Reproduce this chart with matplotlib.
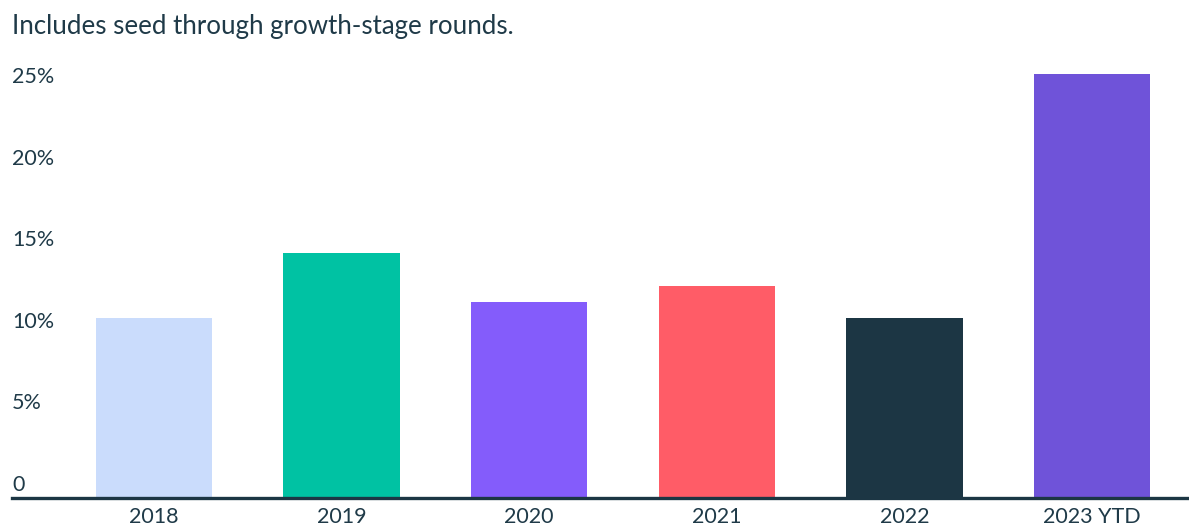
import matplotlib
matplotlib.use("Agg")
import matplotlib.pyplot as plt
from matplotlib import transforms

# Share of rounds by year
categories = ["2018", "2019", "2020", "2021", "2022", "2023 YTD"]
values = [11, 15, 12, 13, 11, 26]
bar_colors = ["#cadcfc", "#00c2a3", "#845cfb", "#ff5c67", "#1c3644", "#6f53d9"]
y_ticks = [0, 5, 10, 15, 20, 25]
y_tick_labels = ["0", "5%", "10%", "15%", "20%", "25%"]
subtitle = "Includes seed through growth-stage rounds."

TEXT = "#1f3a48"
plt.rcParams["font.family"] = ["Lato", "DejaVu Sans"]

W, H = 1189, 528
fig = plt.figure(figsize=(W / 100, H / 100), dpi=100)
fig.patch.set_facecolor("white")

# axes: x from 12px to right edge, zero line at ~497.7px from top
left_px, right_px = 12, 1189
bottom_px = H - 497.7
top_px = H - 57.6
ax = fig.add_axes([left_px / W, bottom_px / H, (right_px - left_px) / W, (top_px - bottom_px) / H])

x = list(range(len(categories)))
ax.bar(x, values, width=0.62, color=bar_colors, zorder=2)

ax.set_xlim(-0.757, 5.517)
ax.set_ylim(0, 27)

for s in ["top", "right", "left"]:
    ax.spines[s].set_visible(False)
ax.spines["bottom"].set_color("#1c3644")
ax.spines["bottom"].set_linewidth(2.4)
ax.spines["bottom"].set_zorder(3)

ax.set_yticks([])
ax.set_xticks(x)
ax.set_xticklabels(categories, fontsize=15.5, color=TEXT)
ax.tick_params(axis="x", length=0, pad=7)

# y labels sit just above their value line, flush left
trans = transforms.blended_transform_factory(fig.transFigure, ax.transData)
trans = transforms.offset_copy(trans, fig=fig, x=0, y=7, units="dots")
for v, lab in zip(y_ticks, y_tick_labels):
    ax.text(left_px / W, v, lab, transform=trans, ha="left", va="baseline",
            fontsize=15.5, color=TEXT)

fig.text(12 / W, 1 - 34 / H, subtitle, ha="left", va="baseline",
         fontsize=18.6, color=TEXT)

fig.savefig("out.png", dpi=100, facecolor="white")
